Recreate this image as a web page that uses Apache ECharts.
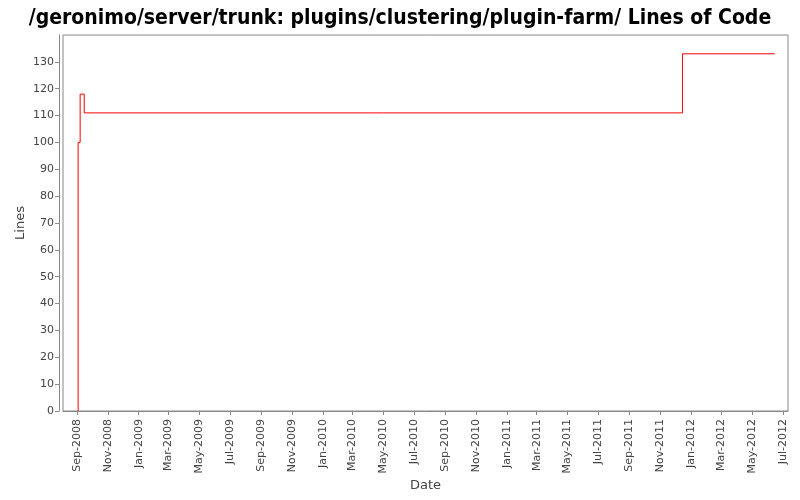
<!DOCTYPE html>
<html><head><meta charset="utf-8">
<script src="https://cdn.jsdelivr.net/npm/echarts@6/dist/echarts.min.js"></script>
<style>html,body{margin:0;padding:0;background:#fff}#c{width:800px;height:500px}</style>
</head><body><div id="c"></div>
<script>
var dates = ['2008-09-03','2008-09-03','2008-09-07','2008-09-15','2011-12-15','2012-06-15'];
var lines = [0,100,118,111,133,133];
var xTicks = ['2008-09-01','2008-11-01','2009-01-01','2009-03-01','2009-05-01','2009-07-01','2009-09-01','2009-11-01','2010-01-01','2010-03-01','2010-05-01','2010-07-01','2010-09-01','2010-11-01','2011-01-01','2011-03-01','2011-05-01','2011-07-01','2011-09-01','2011-11-01','2012-01-01','2012-03-01','2012-05-01','2012-07-01'];
var yTicks = [0,10,20,30,40,50,60,70,80,90,100,110,120,130];
var months = ['Jan','Feb','Mar','Apr','May','Jun','Jul','Aug','Sep','Oct','Nov','Dec'];
function ts(s){var p=s.split('-');return Date.UTC(+p[0],+p[1]-1,+p[2]);}
var chart = echarts.init(document.getElementById('c'));
chart.setOption({
  animation:false,
  title:{text:'/geronimo/server/trunk: plugins/clustering/plugin-farm/ Lines of Code',left:'center',top:3,
    textStyle:{fontFamily:'DejaVu Sans Condensed',fontWeight:'bold',fontSize:21,color:'#000'}},
  grid:{left:63,right:12,top:35,bottom:89,show:true,borderColor:'#888',borderWidth:1,backgroundColor:'#fff'},
  xAxis:{type:'value',min:ts('2008-08-04'),max:ts('2012-07-11'),offset:4,scale:true,
    name:'Date',nameLocation:'middle',nameGap:64,nameMoveOverlap:false,nameTextStyle:{fontFamily:'DejaVu Sans',fontSize:13,color:'#444'},
    axisLine:{lineStyle:{color:'#888'}},
    axisTick:{show:true,length:4,inside:false,customValues:xTicks.map(ts),lineStyle:{color:'#888'}},
    axisLabel:{rotate:90,fontFamily:'DejaVu Sans',fontSize:11,color:'#444',margin:4,customValues:xTicks.map(ts),
      formatter:function(v){var d=new Date(v);return months[d.getUTCMonth()]+'-'+d.getUTCFullYear();}},
    splitLine:{show:false}},
  yAxis:{type:'value',min:0,max:140,offset:4,
    name:'Lines',nameLocation:'middle',nameGap:32,nameMoveOverlap:false,nameTextStyle:{fontFamily:'DejaVu Sans',fontSize:13,color:'#444'},
    axisLine:{show:true,lineStyle:{color:'#888'}},
    axisTick:{show:true,length:4,customValues:yTicks,lineStyle:{color:'#888'}},
    axisLabel:{fontFamily:'DejaVu Sans',fontSize:11,color:'#444',margin:5,customValues:yTicks},
    splitLine:{show:false}},
  series:[{type:'line',step:'end',symbol:'none',data:dates.map(function(d,i){return [ts(d),lines[i]];}),
    lineStyle:{color:'#ff0000',width:1}}]
});
</script></body></html>
